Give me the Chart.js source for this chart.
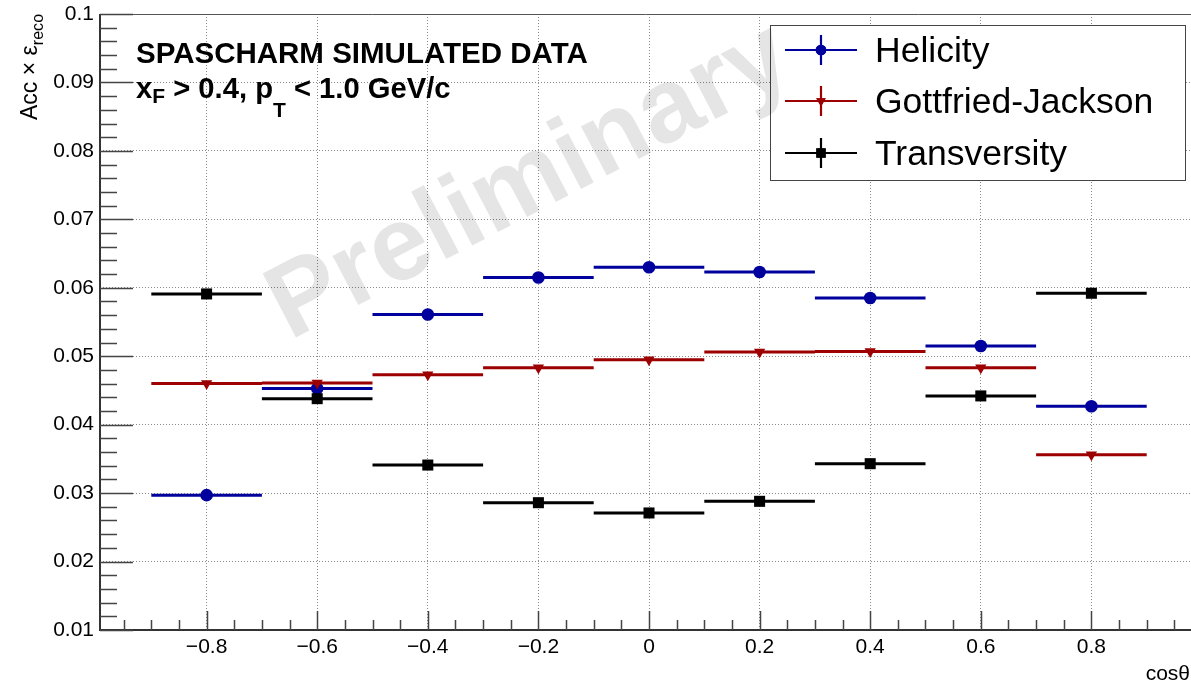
<!DOCTYPE html>
<html>
<head>
<meta charset="utf-8">
<script src="https://cdn.jsdelivr.net/npm/chart.js@4/dist/chart.umd.min.js"></script>
<style>
  html, body { margin: 0; padding: 0; background: #fff; overflow: hidden; }
  canvas { display: block; }
</style>
</head>
<body>
<canvas id="c" width="1191" height="686"></canvas>
<script>
// cos(theta) bins: centres and half width
const binCenters = [-0.8, -0.6, -0.4, -0.2, 0, 0.2, 0.4, 0.6, 0.8];
const binHalfWidth = 0.1;

// Acc x eff_reco per frame
const helicity         = [0.0297, 0.0453, 0.0561, 0.0615, 0.0630, 0.0623, 0.0585, 0.0515, 0.0427];
const gottfriedJackson = [0.0460, 0.0461, 0.0473, 0.0483, 0.0495, 0.0506, 0.0507, 0.0483, 0.0356];
const transversity     = [0.0591, 0.0438, 0.0341, 0.0286, 0.0271, 0.0288, 0.0343, 0.0442, 0.0592];

const seriesNames  = ['Helicity', 'Gottfried-Jackson', 'Transversity'];
const seriesColors = ['#00009c', '#9c0000', '#000000'];

// axis ticks
const xTickValues = [-0.8, -0.6, -0.4, -0.2, 0, 0.2, 0.4, 0.6, 0.8];
const xTickLabels = ['\u22120.8', '\u22120.6', '\u22120.4', '\u22120.2', '0', '0.2', '0.4', '0.6', '0.8'];
const yTickValues = [0.01, 0.02, 0.03, 0.04, 0.05, 0.06, 0.07, 0.08, 0.09, 0.1];
const yTickLabels = ['0.01', '0.02', '0.03', '0.04', '0.05', '0.06', '0.07', '0.08', '0.09', '0.1'];

const FONT = '"Liberation Sans", Arial, Helvetica, sans-serif';

// horizontal bin-width bars, broken between bins
function binBars(values) {
  const pts = [];
  values.forEach((v, i) => {
    pts.push({ x: binCenters[i] - binHalfWidth, y: v });
    pts.push({ x: binCenters[i] + binHalfWidth, y: v });
    pts.push({ x: binCenters[i] + binHalfWidth, y: null });
  });
  return pts;
}
function binPoints(values) {
  return values.map((v, i) => ({ x: binCenters[i], y: v }));
}

const markerStyles = [
  { pointStyle: 'circle',   radius: 6.3, rotation: 0 },
  { pointStyle: 'triangle', radius: 6.5, rotation: 180 },
  { pointStyle: 'rect',     radius: 7.8, rotation: 0 }
];
const allSeries = [helicity, gottfriedJackson, transversity];

const datasets = [];
allSeries.forEach((vals, k) => {
  const ord = allSeries.length - k;
  datasets.push({
    label: seriesNames[k] + ' bins',
    data: binBars(vals),
    showLine: true,
    spanGaps: false,
    borderColor: seriesColors[k],
    borderWidth: 3,
    pointRadius: 0,
    order: ord + 0.5
  });
  datasets.push({
    label: seriesNames[k],
    data: binPoints(vals),
    showLine: false,
    pointStyle: markerStyles[k].pointStyle,
    pointRadius: markerStyles[k].radius,
    pointRotation: markerStyles[k].rotation,
    backgroundColor: seriesColors[k],
    borderColor: seriesColors[k],
    borderWidth: 0,
    order: ord
  });
});

function drawMarker(ctx, k, x, y) {
  const st = markerStyles[k];
  ctx.save();
  ctx.fillStyle = seriesColors[k];
  ctx.strokeStyle = seriesColors[k];
  Chart.helpers.drawPoint(ctx, { pointStyle: st.pointStyle, rotation: st.rotation, radius: st.radius * 0.85, borderWidth: 0 }, x, y);
  ctx.fill();
  ctx.restore();
}

// draws a run of text pieces, some of them as subscripts
function drawRich(ctx, x, y, pieces, size, bold) {
  let cx = x;
  pieces.forEach(p => {
    const fs = p.sub ? size * p.sub : size;
    ctx.font = (bold ? 'bold ' : '') + fs + 'px ' + FONT;
    ctx.fillText(p.t, cx, y + (p.dy || 0));
    cx += ctx.measureText(p.t).width + (p.gap || 0);
  });
  return cx;
}

const decorations = {
  id: 'decorations',
  beforeDraw(chart) {
    const ctx = chart.ctx;
    ctx.save();
    ctx.fillStyle = '#ffffff';
    ctx.fillRect(0, 0, chart.width, chart.height);
    ctx.restore();
  },
  afterDatasetsDraw(chart) {
    const ctx = chart.ctx;
    const a = chart.chartArea;
    const xs = chart.scales.x, ys = chart.scales.y;
    ctx.save();
    // frame
    ctx.strokeStyle = '#555';
    ctx.lineWidth = 1;
    ctx.beginPath();
    ctx.moveTo(a.left, a.top + 0.5);
    ctx.lineTo(a.right, a.top + 0.5);
    ctx.stroke();
    ctx.strokeStyle = '#333';
    ctx.lineWidth = 2;
    ctx.beginPath();
    ctx.moveTo(a.left, a.top);
    ctx.lineTo(a.left, a.bottom);
    ctx.lineTo(a.right, a.bottom);
    ctx.stroke();

    // x tick marks (inside the frame)
    ctx.strokeStyle = '#444';
    ctx.lineWidth = 1.5;
    ctx.beginPath();
    for (let i = -19; i <= 19; i++) {
      const v = i * 0.05;
      const px = xs.getPixelForValue(v);
      if (px < a.left || px > a.right) continue;
      const len = (i % 4 === 0) ? 19 : 10;
      ctx.moveTo(Math.round(px) + 0.5, a.bottom);
      ctx.lineTo(Math.round(px) + 0.5, a.bottom - len);
    }
    // y tick marks
    for (let i = 5; i <= 50; i++) {
      const v = i * 0.002;
      const py = ys.getPixelForValue(v);
      const len = (i % 5 === 0) ? 33 : 17;
      ctx.moveTo(a.left, Math.round(py) + 0.5);
      ctx.lineTo(a.left + len, Math.round(py) + 0.5);
    }
    ctx.stroke();

    // text block
    ctx.fillStyle = '#000';
    ctx.textAlign = 'left';
    ctx.textBaseline = 'alphabetic';
    ctx.font = 'bold 29.5px ' + FONT;
    ctx.fillText('SPASCHARM SIMULATED DATA', 136, 63);
    drawRich(ctx, 136, 98, [
      { t: 'x' },
      { t: 'F', sub: 0.72, dy: 5 },
      { t: ' > 0.4, p' },
      { t: 'T', sub: 0.72, dy: 19 },
      { t: ' < 1.0 GeV/c' }
    ], 29.2, true);

    // axis titles
    ctx.save();
    ctx.translate(37, 120);
    ctx.rotate(-Math.PI / 2);
    drawRich(ctx, 0, 0, [
      { t: 'Acc \u00d7 \u03b5' },
      { t: 'reco', sub: 0.7, dy: 6 }
    ], 23, false);
    ctx.restore();
    ctx.font = '21px ' + FONT;
    ctx.textAlign = 'right';
    ctx.fillText('cos\u03b8', 1190, 680);

    // legend
    const L = { x0: 770, y0: 25, x1: 1185, y1: 180 };
    ctx.fillStyle = '#fff';
    ctx.fillRect(L.x0, L.y0, L.x1 - L.x0, L.y1 - L.y0);
    ctx.strokeStyle = '#444';
    ctx.lineWidth = 1;
    ctx.strokeRect(L.x0 + 0.5, L.y0 + 0.5, L.x1 - L.x0, L.y1 - L.y0);
    const rows = [50, 101, 153];
    seriesNames.forEach((name, k) => {
      const cy = rows[k];
      ctx.strokeStyle = seriesColors[k];
      ctx.lineWidth = 2.2;
      ctx.beginPath();
      ctx.moveTo(785, cy);
      ctx.lineTo(857, cy);
      ctx.moveTo(821, cy - 15);
      ctx.lineTo(821, cy + 15);
      ctx.stroke();
      drawMarker(ctx, k, 821, cy);
      ctx.fillStyle = '#000';
      ctx.textAlign = 'left';
      ctx.font = '35.5px ' + FONT;
      ctx.fillText(name, 875, cy + 12);
    });
    ctx.restore();
  },
  afterDraw(chart) {
    // translucent watermark on top of everything
    const ctx = chart.ctx;
    ctx.save();
    ctx.translate(530, 183);
    ctx.rotate(-27.5 * Math.PI / 180);
    ctx.font = 'bold 105px ' + FONT;
    ctx.fillStyle = 'rgba(0, 0, 0, 0.1)';
    ctx.textAlign = 'center';
    ctx.textBaseline = 'middle';
    ctx.fillText('Preliminary', 0, 0);
    ctx.restore();
  }
};

new Chart(document.getElementById('c'), {
  type: 'scatter',
  data: { datasets },
  options: {
    responsive: false,
    devicePixelRatio: 1,
    animation: false,
    events: [],
    layout: { autoPadding: false, padding: { top: 14, right: 0, left: 0, bottom: 0 } },
    plugins: { legend: { display: false }, tooltip: { enabled: false } },
    scales: {
      x: {
        type: 'linear',
        min: -0.99277,
        max: 0.98011,
        afterBuildTicks: s => { s.ticks = xTickValues.map(v => ({ value: v })); },
        afterFit: s => { s.height = 56; s.paddingLeft = 0; s.paddingRight = 0; },
        border: { display: false, dash: [1, 2] },
        grid: { color: '#8a8a8a', lineWidth: 1, drawTicks: false },
        ticks: {
          padding: 5,
          color: '#000',
          font: { family: FONT, size: 21 },
          maxRotation: 0,
          autoSkip: false,
          callback: (v, i) => xTickLabels[i]
        }
      },
      y: {
        type: 'linear',
        min: 0.01,
        max: 0.1,
        afterBuildTicks: s => { s.ticks = yTickValues.map(v => ({ value: v })); },
        afterFit: s => { s.width = 100; s.paddingTop = 0; s.paddingBottom = 0; },
        border: { display: false, dash: [1, 2] },
        grid: { color: '#8a8a8a', lineWidth: 1, drawTicks: false },
        ticks: {
          padding: 6,
          color: '#000',
          font: { family: FONT, size: 21 },
          autoSkip: false,
          callback: (v, i) => yTickLabels[i]
        }
      }
    }
  },
  plugins: [decorations]
});
</script>
</body>
</html>
